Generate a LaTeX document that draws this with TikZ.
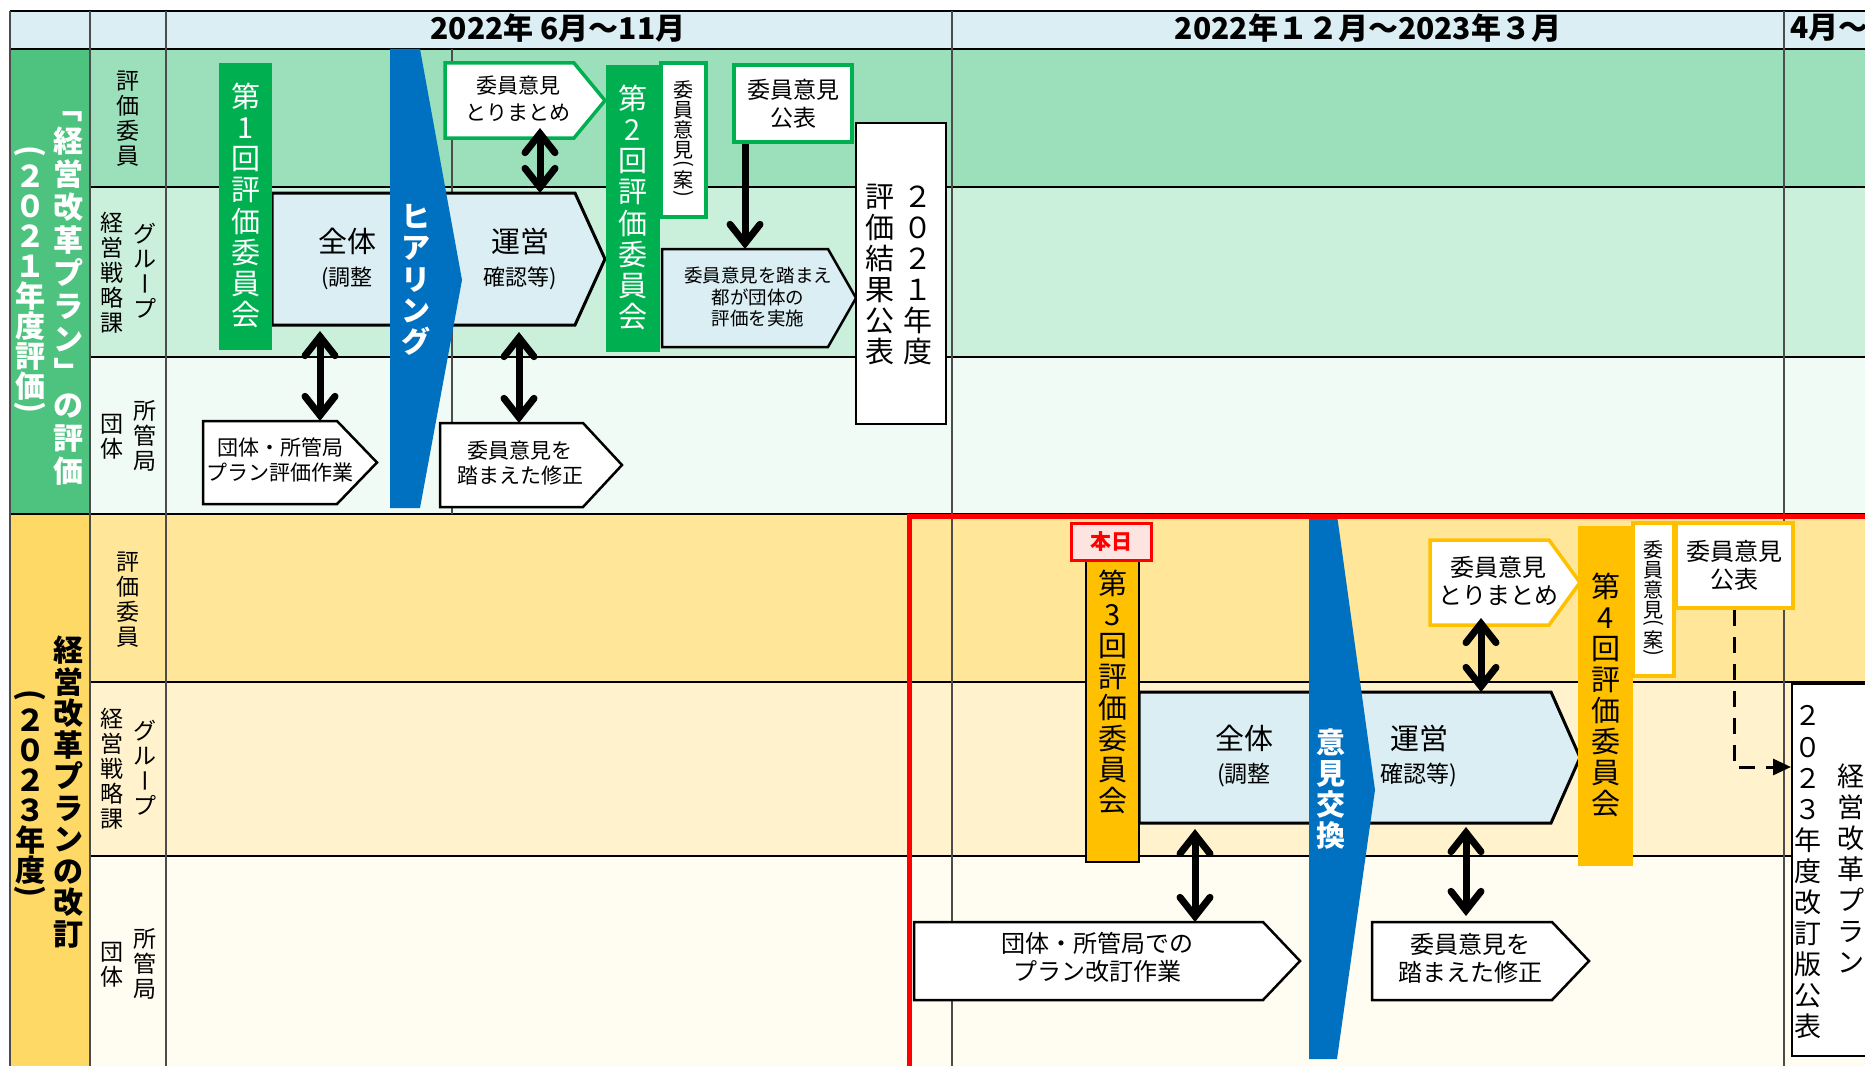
\documentclass[tikz,border=0pt]{standalone}
\usepackage{fontspec}
\setmainfont{Noto Sans CJK JP}
\usepackage{graphicx}
\usepackage{xcolor}
\usetikzlibrary{positioning,arrows.meta}

\definecolor{hdr}{HTML}{DAEEF3}
\definecolor{gcol}{HTML}{4DC37F}
\definecolor{grow1}{HTML}{9BDFBB}
\definecolor{grow2}{HTML}{CAF0DC}
\definecolor{grow3}{HTML}{F1FBF5}
\definecolor{ycol}{HTML}{FFD966}
\definecolor{yrow1}{HTML}{FFE699}
\definecolor{yrow2}{HTML}{FFF2CC}
\definecolor{yrow3}{HTML}{FFFDF2}
\definecolor{kgreen}{HTML}{00B050}
\definecolor{kblue}{HTML}{0070C0}
\definecolor{korange}{HTML}{FFC000}
\definecolor{lblue}{HTML}{DAEEF3}
\definecolor{todayfill}{HTML}{FDE4E1}

% 縦書き（1文字ずつ積む）
\makeatletter
\newcommand\tate[2][1]{%
  \vbox{\offinterlineskip\def\tate@p{#1}%
    \@tfor\tate@c:=#2\do{%
      \hbox to 1em{\hss\def\tate@ht{.88em}\def\tate@dp{\dimexpr\tate@p em-.88em\relax}%
        \tate@c\vrule height\tate@ht depth\tate@dp width\z@\hss}}}}
\newcommand\vpo{\def\tate@ht{.5em}\def\tate@dp{\z@}\rotatebox[origin=c]{-90}{(}}
\newcommand\vpc{\def\tate@ht{.5em}\def\tate@dp{\z@}\rotatebox[origin=c]{-90}{)}}
\newcommand\vko{\rotatebox[origin=c]{-90}{「\vphantom{国}}}
\newcommand\vkc{\rotatebox[origin=c]{-90}{」\vphantom{国}}}
\newcommand\vbar{\rotatebox[origin=c]{-90}{ー\vphantom{国}}}
\makeatother

\tikzset{
  hline/.style={line width=1.3pt, black},
  vline/.style={line width=1.3pt, black!70},
  slot/.style={inner sep=0pt, outer sep=0pt},
  txt/.style={inner sep=0pt, align=center},
  head/.style={inner sep=0pt, font=\fontsize{30}{32}\selectfont\bfseries},
  lbl/.style={inner sep=0pt, font=\fontsize{23}{23}\selectfont},
  sec/.style={inner sep=0pt, font=\fontsize{30}{30}\selectfont\bfseries},
  gbox/.style={fill=kgreen, text=white, inner sep=0pt, font=\fontsize{29}{29}\selectfont},
  obox/.style={fill=korange, inner sep=0pt, font=\fontsize{29}{29}\selectfont},
  gframe/.style={draw=kgreen, line width=3.5pt, fill=white, inner sep=0pt},
  oframe/.style={draw=korange, line width=3.5pt, fill=white, inner sep=0pt},
  wbox/.style={draw=black, line width=2pt, fill=white, inner sep=0pt},
  chev/.style={draw=black, line width=3pt, fill=lblue},
  wpent/.style={draw=black, line width=2.5pt, fill=white},
  bpent/.style={draw=black, line width=2.5pt, fill=lblue},
  gpent/.style={draw=kgreen, line width=3.5pt, fill=white},
  opent/.style={draw=korange, line width=3.5pt, fill=white},
  wlbl/.style={inner sep=0pt, text=white, font=\fontsize{29}{29}\selectfont\bfseries},
  todaybox/.style={draw=red, line width=3pt, fill=todayfill, text=red, inner sep=0pt, font=\fontsize{21}{21}\selectfont\bfseries},
  dbl/.style={line width=7pt, {Straight Barb[length=19pt,width=30pt,line cap=round]}-{Straight Barb[length=19pt,width=30pt,line cap=round]}},
  one/.style={line width=7pt, -{Straight Barb[length=19pt,width=30pt,line cap=round]}},
  dsh/.style={line width=3pt, dash pattern=on 16pt off 11pt, -{Triangle[length=18pt,width=16pt]}},
}

\begin{document}
\begin{tikzpicture}[x=1pt,y=-1pt]
    \useasboundingbox (0,0) rectangle (1865,1065);
    \clip (0,0) rectangle (1865,1065);
    % 表の地色
    \fill[hdr] (10,11) rectangle (1880,49); %見出し
    \fill[gcol] (10,49) rectangle (90,514);
    \fill[grow1] (90,49) rectangle (1880,187);
    \fill[grow2] (90,187) rectangle (1880,357);
    \fill[grow3] (90,357) rectangle (1880,514);
    \fill[ycol] (10,514) rectangle (90,1080);
    \fill[yrow1] (90,514) rectangle (1880,682);
    \fill[yrow2] (90,682) rectangle (1880,856);
    \fill[yrow3] (90,856) rectangle (1880,1080);
    % 罫線
    \draw[hline] (10,11) -- (1880,11);
    \draw[hline] (10,49) -- (1880,49);
    \draw[hline] (90,187) -- (1880,187);
    \draw[hline] (90,357) -- (1880,357);
    \draw[hline] (10,514) -- (1880,514);
    \draw[hline] (90,682) -- (1880,682);
    \draw[hline] (90,856) -- (1880,856);
    \draw[vline] (10,11) -- (10,1080);
    \draw[vline] (90,11) -- (90,1080);
    \draw[vline] (166,11) -- (166,1080);
    \draw[vline] (452,49) -- (452,514);
    \draw[vline] (952,11) -- (952,1080);
    \draw[vline] (1784,11) -- (1784,1080);
    % 見出し
    \node[head] (h1) at (558,28) {2022年 6月～11月};
    \node[head] (h2) at (1368,28) {2022年１２月～2023年３月};
    \node[head, anchor=west] (h3) at (1790,28) {4月～};
    % 左の見出し列
    \node[sec, text=white] (sec1a) at (68,291) {\tate[1.1]{\vko 経営改革プラン\vkc の評価}};
    \node[sec, text=white] (sec1b) at (30,281) {\tate{\vpo ２０２１年度評価\vpc}};
    \node[sec] (sec2a) at (68,793) {\tate[1.05]{経営改革プランの改訂}};
    \node[sec] (sec2b) at (30,795) {\tate{\vpo ２０２３年度\vpc}};
    \node[lbl] (r1a) at (128,119) {\tate[1.09]{評価委員}};
    \node[lbl] (r1b) at (145,272) {\tate[1.09]{グル\vbar プ}};
    \node[lbl] (r1c) at (112,274) {\tate[1.09]{経営戦略課}};
    \node[lbl] (r1d) at (145,437) {\tate[1.09]{所管局}};
    \node[lbl] (r1e) at (112,437) {\tate[1.09]{団体}};
    \node[lbl] (r2a) at (128,600) {\tate[1.09]{評価委員}};
    \node[lbl] (r2b) at (145,769) {\tate[1.09]{グル\vbar プ}};
    \node[lbl] (r2c) at (112,770) {\tate[1.09]{経営戦略課}};
    \node[lbl] (r2d) at (145,965) {\tate[1.09]{所管局}};
    \node[lbl] (r2e) at (112,965) {\tate[1.09]{団体}};

    % ===== 2021年度評価 =====
    \node[slot, minimum width=303, minimum height=132] (chev1) at (423.5,259) {}; %全体・運営
    \draw[chev] (chev1.north west) -- (chev1.north east) -- ([xshift=30pt]chev1.east) -- (chev1.south east) -- (chev1.south west) -- cycle;
    \node[gbox, minimum width=53, minimum height=287] (ban1) at (245.5,206.5) {\tate[1.07]{第1回評価委員会}};
    \fill[kblue] (390,49) -- (420,49) -- (462,280) -- (420,508) -- (390,508) -- cycle; %ヒアリング
    \node[wlbl] (hear) at (416,280) {\tate[1.07]{ヒアリング}};
    \node[txt, font=\fontsize{29}{33}\selectfont] (zen1) at (347,259) {全体\\{\fontsize{22}{26}\selectfont(調整}};
    \node[txt, font=\fontsize{29}{33}\selectfont] (unei1) at (520,259) {運営\\{\fontsize{22}{26}\selectfont 確認等)}};
    \node[slot, minimum width=129, minimum height=75] (tori1) at (509.5,100.5) {}; %とりまとめ
    \draw[gpent] (tori1.north west) -- (tori1.north east) -- ([xshift=31pt]tori1.east) -- (tori1.south east) -- (tori1.south west) -- cycle;
    \node[txt, font=\fontsize{21}{27}\selectfont] (tori1t) at (518,99) {委員意見\\とりまとめ};
    \node[gbox, minimum width=54, minimum height=287] (ban2) at (633,208.5) {\tate[1.07]{第2回評価委員会}};
    \node[gframe, minimum width=45, minimum height=154, font=\fontsize{20}{20}\selectfont] (an1) at (683.5,140) {\tate{委員意見\vpo 案\vpc}};
    \node[gframe, minimum width=118, minimum height=77, align=center, font=\fontsize{23}{28}\selectfont] (ko1) at (793,103.5) {委員意見\\公表};
    \node[slot, minimum width=166, minimum height=98] (tsu1) at (745,298) {}; %都が団体の評価
    \draw[bpent] (tsu1.north west) -- (tsu1.north east) -- ([xshift=28pt]tsu1.east) -- (tsu1.south east) -- (tsu1.south west) -- cycle;
    \node[txt, font=\fontsize{18.5}{21.5}\selectfont] (tsu1t) at (758,297) {委員意見を踏まえ\\都が団体の\\評価を実施};
    \node[wbox, minimum width=90, minimum height=301] (pub21) at (901,273.5) {}; %評価結果公表
    \node[txt, font=\fontsize{29}{29}\selectfont] (pub21t) at (899,275) {\tate[1.07]{評価結果公表}\hspace{9pt}\tate[1.07]{２０２１年度}};
    \node[slot, minimum width=134, minimum height=83] (dt1) at (270,462.5) {}; %団体作業
    \draw[wpent] (dt1.north west) -- (dt1.north east) -- ([xshift=40pt]dt1.east) -- (dt1.south east) -- (dt1.south west) -- cycle;
    \node[txt, font=\fontsize{21}{25}\selectfont] (dt1t) at (280,459.5) {団体・所管局\\プラン評価作業};
    \node[slot, minimum width=143, minimum height=84] (sy1) at (511.5,465) {}; %修正
    \draw[wpent] (sy1.north west) -- (sy1.north east) -- ([xshift=39pt]sy1.east) -- (sy1.south east) -- (sy1.south west) -- cycle;
    \node[txt, font=\fontsize{21}{25}\selectfont] (sy1t) at (520,463) {委員意見を\\踏まえた修正};
    % 矢印
    \coordinate (x1) at (320,0);
    \coordinate (x2) at (540,0);
    \coordinate (x3) at (519,0);
    \draw[dbl, shorten <=6pt] (chev1.south -| x1) -- (dt1.north -| x1);
    \draw[dbl, shorten <=-10pt] (tori1.south -| x2) -- (chev1.north -| x2);
    \draw[dbl, shorten <=7pt] (chev1.south -| x3) -- (sy1.north -| x3);
    \draw[one] (ko1.south -| tsu1.north) -- (tsu1.north);

    % ===== 2023年度改訂 =====
    \node[slot, minimum width=412, minimum height=131] (chev2) at (1345,757.5) {}; %全体・運営
    \draw[chev] (chev2.north west) -- (chev2.north east) -- ([xshift=29pt]chev2.east) -- (chev2.south east) -- (chev2.south west) -- cycle;
    \node[obox, draw=black, line width=2pt, minimum width=53, minimum height=302] (ban3) at (1112.5,711) {};
    \node[txt, font=\fontsize{29}{29}\selectfont] (ban3t) at (1112.5,693) {\tate[1.07]{第3回評価委員会}};
    \node[todaybox, minimum width=80, minimum height=37] (today) at (1111,541.5) {本日};
    \fill[kblue] (1309,515) -- (1337,515) -- (1375,790) -- (1337,1059) -- (1309,1059) -- cycle; %意見交換
    \node[wlbl] (iken) at (1331,790) {\tate[1.07]{意見交換}};
    \node[txt, font=\fontsize{29}{33}\selectfont] (zen2) at (1244,756) {全体\\{\fontsize{23}{26}\selectfont(調整}};
    \node[txt, font=\fontsize{29}{33}\selectfont] (unei2) at (1419,756) {運営\\{\fontsize{23}{26}\selectfont 確認等)}};
    \node[slot, minimum width=119, minimum height=85] (tori2) at (1489.5,582.5) {}; %とりまとめ
    \draw[opent] (tori2.north west) -- (tori2.north east) -- ([xshift=31pt]tori2.east) -- (tori2.south east) -- (tori2.south west) -- cycle;
    \node[txt, font=\fontsize{24}{28}\selectfont] (tori2t) at (1498,581) {委員意見\\とりまとめ};
    \node[obox, minimum width=55, minimum height=340] (ban4) at (1605.5,696) {\tate[1.07]{第4回評価委員会}};
    \node[oframe, minimum width=41, minimum height=153, font=\fontsize{20}{20}\selectfont] (an2) at (1653.5,599.5) {\tate{委員意見\vpo 案\vpc}};
    \node[oframe, minimum width=117, minimum height=85, align=center, font=\fontsize{24}{28}\selectfont] (ko2) at (1734.5,565.5) {委員意見\\公表};
    \node[wbox, minimum width=100, minimum height=372] (pub23) at (1842,870) {}; %改訂版公表
    \node[txt, font=\fontsize{27}{27}\selectfont] (pub23a) at (1808,873) {\tate[1.15]{２０２３年度改訂版公表}};
    \node[txt, font=\fontsize{27}{27}\selectfont] (pub23b) at (1851,871) {\tate[1.15]{経営改革プラン}};
    \node[slot, minimum width=349, minimum height=78] (dt2) at (1088.5,961) {}; %団体改訂作業
    \draw[wpent] (dt2.north west) -- (dt2.north east) -- ([xshift=37pt]dt2.east) -- (dt2.south east) -- (dt2.south west) -- cycle;
    \node[txt, font=\fontsize{24}{28}\selectfont] (dt2t) at (1097,957) {団体・所管局での\\プラン改訂作業};
    \node[slot, minimum width=180, minimum height=78] (sy2) at (1462,961) {}; %修正
    \draw[wpent] (sy2.north west) -- (sy2.north east) -- ([xshift=37pt]sy2.east) -- (sy2.south east) -- (sy2.south west) -- cycle;
    \node[txt, font=\fontsize{24}{28}\selectfont] (sy2t) at (1470,958) {委員意見を\\踏まえた修正};
    % 矢印
    \coordinate (x4) at (1195,0);
    \coordinate (x5) at (1466,0);
    \coordinate (x6) at (1481,0);
    \coordinate (pubin) at (1791,767);
    \draw[dbl, shorten <=6pt] (chev2.south -| x4) -- (dt2.north -| x4);
    \draw[dbl, shorten <=4pt, shorten >=6pt] (chev2.south -| x5) -- (sy2.north -| x5);
    \draw[dbl, shorten <=-7pt] (tori2.south -| x6) -- (chev2.north -| x6);
    \draw[dsh] (ko2.south) |- (pubin);
    % 赤枠
    \draw[red, line width=5pt] (909,1080) -- (909,516) -- (1880,516);
\end{tikzpicture}
\end{document}
